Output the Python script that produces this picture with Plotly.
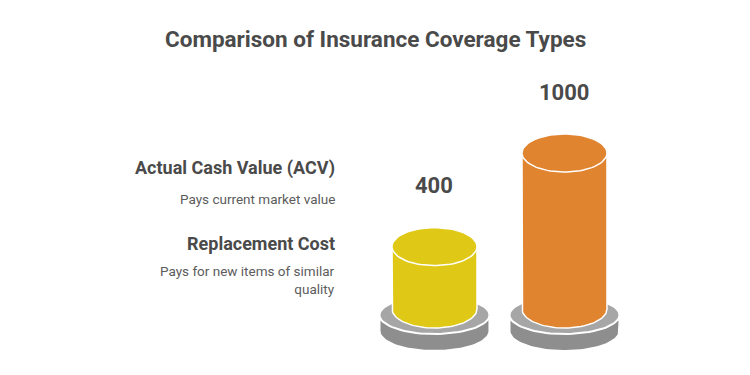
import numpy as np
import plotly.graph_objects as go

# ---- data ----
categories = ["Replacement Cost", "Actual Cash Value (ACV)"]
values = [400, 1000]
bar_colors = ["#DFC916", "#E0842F"]
value_labels = ["400", "1000"]
legend_titles = ["Actual Cash Value (ACV)", "Replacement Cost"]
legend_descs = ["Pays current market value", "Pays for new items of similar<br>quality"]
title_text = "Comparison of Insurance Coverage Types"

W, H = 750, 375
# axis ranges (value units)
X_RANGE = [-3.342, 2.427]
Y_RANGE = [-423.0, 1981.0]
px_x = (X_RANGE[1] - X_RANGE[0]) / W   # x units per pixel
px_y = (Y_RANGE[1] - Y_RANGE[0]) / H   # y units per pixel

FONT = "Roboto, 'Open Sans', sans-serif"

fig = go.Figure()

def ellipse(cx, cy, rxp, ryp, n=80):
    t = np.linspace(0, 2 * np.pi, n)
    return cx + rxp * px_x * np.cos(t), cy + ryp * px_y * np.sin(t)

def add_poly(xs, ys, fill, line_color="white", line_width=1.5):
    fig.add_trace(go.Scatter(x=list(xs), y=list(ys), mode="lines", fill="toself",
                             fillcolor=fill, line=dict(color=line_color, width=line_width),
                             hoverinfo="skip", showlegend=False))

t = np.linspace(0, np.pi, 60)
for i, (v, col) in enumerate(zip(values, bar_colors)):
    cx = i
    # base: lower disc (with side band)
    rb, ryb = 54, 19
    c_low = -13 * px_y
    band = 9 * px_y
    xs = np.concatenate([cx - rb * px_x * np.cos(t), cx + rb * px_x * np.cos(t)])
    ys = np.concatenate([c_low + ryb * px_y * np.sin(t), c_low - band - ryb * px_y * np.sin(t)])
    add_poly(xs, ys, "#8E8E8E", line_color="rgba(0,0,0,0)", line_width=0)
    # upper disc
    ex, ey = ellipse(cx, -6 * px_y, 55, 19)
    add_poly(ex, ey, "#A6A6A6", line_color="white", line_width=2)
    # cylinder body
    rx, ry = 42.5, 19
    top = v
    xs = np.concatenate([[cx - rx * px_x], cx - rx * px_x * np.cos(t), [cx + rx * px_x, cx - rx * px_x]])
    ys = np.concatenate([[top], 0 - ry * px_y * np.sin(t), [top, top]])
    add_poly(xs, ys, col, line_color="white", line_width=1.5)
    # top ellipse
    ex, ey = ellipse(cx, top, rx, ry)
    add_poly(ex, ey, col, line_color="white", line_width=1.5)
    # value label
    fig.add_annotation(x=cx, y=v, text=f"<b>{value_labels[i]}</b>", showarrow=False,
                       yshift=61, font=dict(family=FONT, size=22, color="#4a4a4a"),
                       xanchor="center", yanchor="middle")

# title
fig.add_annotation(x=0.5, y=1 - 39 / H, xref="paper", yref="paper", showarrow=False,
                   text=f"<b>{title_text}</b>", font=dict(family=FONT, size=22.5, color="#4a4a4a"),
                   xanchor="center", yanchor="middle")

# side legend texts
head_y = [168, 243]
desc_y = [199, 280]
for i in range(2):
    fig.add_annotation(x=337 / W, y=1 - head_y[i] / H, xref="paper", yref="paper", showarrow=False,
                       text=f"<b>{legend_titles[i]}</b>", font=dict(family=FONT, size=18, color="#4a4a4a"),
                       xanchor="right", yanchor="middle", align="right")
    fig.add_annotation(x=337 / W, y=1 - desc_y[i] / H, xref="paper", yref="paper", showarrow=False,
                       text=legend_descs[i], font=dict(family=FONT, size=13.5, color="#5c5c5c"),
                       xanchor="right", yanchor="middle", align="right")

fig.update_layout(
    width=W, height=H, margin=dict(l=0, r=0, t=0, b=0),
    paper_bgcolor="white", plot_bgcolor="white",
    xaxis=dict(range=X_RANGE, visible=False, fixedrange=True),
    yaxis=dict(range=Y_RANGE, visible=False, fixedrange=True),
    showlegend=False,
)

fig.write_html("out.html", config={"displayModeBar": False},
               post_script="document.body.style.margin='0';document.body.style.overflow='hidden';")
